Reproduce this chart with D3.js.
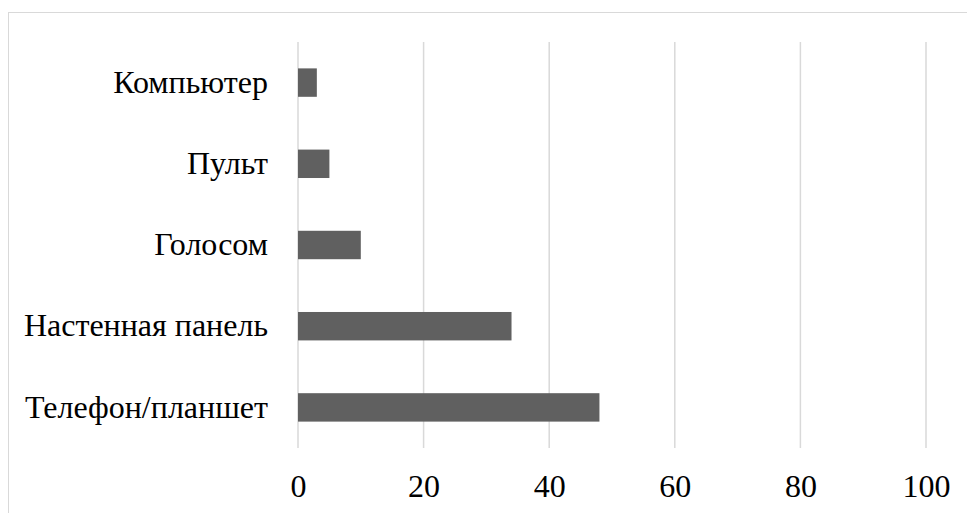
<!DOCTYPE html>
<html lang="en">
<head>
	<meta charset="utf-8">
	<title>Bar chart</title>
	<script src="https://d3js.org/d3.v7.js"></script>
	<style>
		body { margin: 0; background: #fff; }
		svg text { font-family: "Liberation Serif", "Times New Roman", serif; }
	</style>
</head>
<body>
	<div id="chart"></div>
	<script>
		// data
		const categories = ["Компьютер", "Пульт", "Голосом", "Настенная панель", "Телефон/планшет"];
		const values = [3, 5, 10, 34, 48];
		const xTicks = [0, 20, 40, 60, 80, 100];

		const W = 967, H = 513;
		const margin = { top: 42, right: 41, bottom: 65, left: 298 };
		const fontSize = 32;

		const svg = d3.select("#chart")
			.append("svg")
			.attr("width", W)
			.attr("height", H);

		// chart area border
		svg.append("rect")
			.attr("x", 8.5)
			.attr("y", 12.5)
			.attr("width", W)
			.attr("height", H)
			.attr("fill", "none")
			.attr("stroke", "#d9d9d9")
			.attr("stroke-width", 1);

		const x = d3.scaleLinear()
			.domain([0, 100])
			.range([margin.left, W - margin.right]);

		const y = d3.scaleBand()
			.domain(categories)
			.range([margin.top, H - margin.bottom])
			.paddingInner(0.65)
			.paddingOuter(0.325);

		// vertical grid lines
		svg.append("g")
			.selectAll("line")
			.data(xTicks)
			.join("line")
			.attr("x1", d => x(d))
			.attr("x2", d => x(d))
			.attr("y1", margin.top)
			.attr("y2", H - margin.bottom)
			.attr("stroke", "#d9d9d9")
			.attr("stroke-width", 1.5);

		// bars
		svg.append("g")
			.selectAll("rect")
			.data(categories)
			.join("rect")
			.attr("x", x(0))
			.attr("y", d => y(d))
			.attr("width", (d, i) => x(values[i]) - x(0))
			.attr("height", y.bandwidth())
			.attr("fill", "#606060");

		// x axis labels
		const xAxis = svg.append("g")
			.attr("transform", `translate(0,${H - margin.bottom})`)
			.call(d3.axisBottom(x).tickValues(xTicks).tickSize(0).tickPadding(26));
		xAxis.select(".domain").remove();
		xAxis.attr("font-family", null).attr("font-size", null);
		xAxis.selectAll("text")
			.style("font-size", fontSize + "px")
			.attr("fill", "#000");

		// category labels
		const yAxis = svg.append("g")
			.attr("transform", `translate(${margin.left},0)`)
			.call(d3.axisLeft(y).tickSize(0).tickPadding(30));
		yAxis.select(".domain").remove();
		yAxis.attr("font-family", null).attr("font-size", null);
		yAxis.selectAll("text")
			.style("font-size", fontSize + "px")
			.attr("fill", "#000");
	</script>
</body>
</html>
